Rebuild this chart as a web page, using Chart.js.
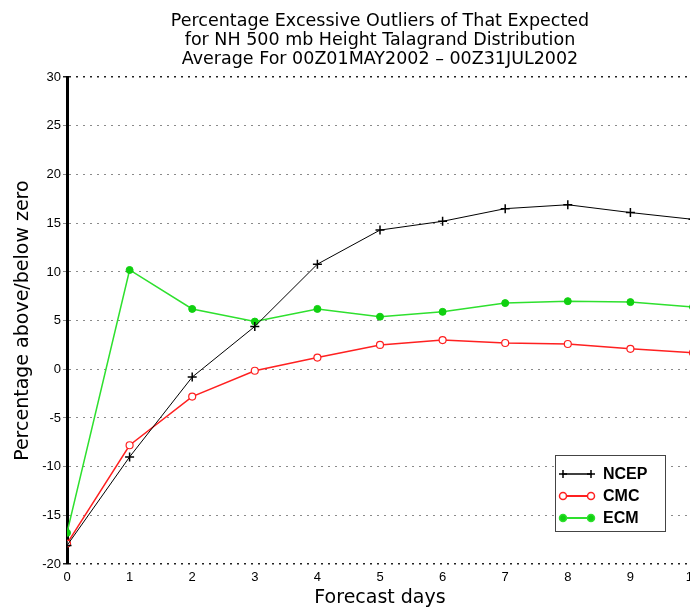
<!DOCTYPE html>
<html>
<head>
<meta charset="utf-8">
<script src="https://cdn.jsdelivr.net/npm/chart.js@4.4.1/dist/chart.umd.min.js"></script>
<style>
  html, body { margin: 0; padding: 0; background: #fff; overflow: hidden; }
  #wrap { width: 700px; height: 609px; }
</style>
</head>
<body>
<div id="wrap"><canvas id="chart" width="700" height="609"></canvas></div>
<script>
// forecast days and % excessive outliers per centre
const days = [0, 1, 2, 3, 4, 5, 6, 7, 8, 9, 10];
const ncep = [-18.1, -9.0, -0.8, 4.4, 10.8, 14.3, 15.2, 16.5, 16.9, 16.1, 15.4];
const cmc  = [-17.9, -7.8, -2.8, -0.15, 1.2, 2.5, 3.0, 2.7, 2.6, 2.1, 1.7];
const ecm  = [-16.8, 10.2, 6.2, 4.9, 6.2, 5.4, 5.9, 6.8, 7.0, 6.9, 6.4];
const yTicks = [-20, -15, -10, -5, 0, 5, 10, 15, 20, 25, 30];
const titleLines = [
    'Percentage Excessive Outliers of That Expected',
    'for NH 500 mb Height Talagrand Distribution',
    'Average For 00Z01MAY2002 \u2013 00Z31JUL2002'
];

const toPoints = (vals) => vals.map((v, i) => ({ x: days[i], y: v }));
const isEdge = (c) => c.tick && (c.tick.value === 30 || c.tick.value === -20);

// legend box drawn inside the plot, bottom right
const boxLegend = {
    id: 'boxLegend',
    afterDraw(chart) {
        const ctx = chart.ctx;
        const x0 = 555, y0 = 455, w = 110, h = 76;
        ctx.save();
        ctx.fillStyle = '#fff';
        ctx.fillRect(x0, y0, w, h);
        ctx.strokeStyle = '#444';
        ctx.lineWidth = 1;
        ctx.strokeRect(x0 + 0.5, y0 + 0.5, w, h);
        chart.data.datasets.forEach((ds, i) => {
            const y = y0 + 19 + i * 22;
            ctx.strokeStyle = ds.borderColor;
            ctx.lineWidth = ds.borderWidth + 0.5;
            ctx.beginPath();
            ctx.moveTo(562, y);
            ctx.lineTo(592, y);
            ctx.stroke();
            [563, 591].forEach(px => {
                ctx.fillStyle = ds.pointBackgroundColor;
                ctx.strokeStyle = ds.borderColor;
                ctx.lineWidth = 1.5;
                ctx.beginPath();
                if (ds.pointStyle === 'circle') {
                    ctx.arc(px, y, 3.5, 0, Math.PI * 2);
                    ctx.fill();
                    ctx.stroke();
                } else {
                    ctx.moveTo(px - 4, y);
                    ctx.lineTo(px + 4, y);
                    ctx.moveTo(px, y - 4);
                    ctx.lineTo(px, y + 4);
                    ctx.stroke();
                }
            });
            ctx.fillStyle = '#000';
            ctx.font = 'bold 16px "Liberation Sans", sans-serif';
            ctx.textBaseline = 'middle';
            ctx.fillText(ds.label, 603, y + 1);
        });
        ctx.restore();
    }
};

new Chart(document.getElementById('chart'), {
    type: 'line',
    data: {
        datasets: [
            {
                label: 'NCEP',
                data: toPoints(ncep),
                borderColor: '#000',
                borderWidth: 1,
                pointStyle: 'cross',
                pointRadius: 4.5,
                pointBorderWidth: 1.5,
                pointBackgroundColor: '#000',
                pointBorderColor: '#000'
            },
            {
                label: 'CMC',
                data: toPoints(cmc),
                borderColor: '#ff2020',
                borderWidth: 1.5,
                pointStyle: 'circle',
                pointRadius: 3.5,
                pointBorderWidth: 1.2,
                pointBackgroundColor: '#fff',
                pointBorderColor: '#ff2020'
            },
            {
                label: 'ECM',
                data: toPoints(ecm),
                borderColor: '#2ee02e',
                borderWidth: 1.5,
                pointStyle: 'circle',
                pointRadius: 3.5,
                pointBorderWidth: 1,
                pointBackgroundColor: '#10d010',
                pointBorderColor: '#10d010'
            }
        ]
    },
    options: {
        responsive: false,
        animation: false,
        layout: { padding: { left: 0, right: 7, top: 0, bottom: 0 } },
        plugins: {
            legend: { display: false },
            tooltip: { enabled: false },
            title: {
                display: true,
                fullSize: false,
                text: titleLines,
                color: '#000',
                font: { family: '"DejaVu Sans", sans-serif', size: 17.5, weight: 'normal', lineHeight: 1.09 },
                padding: { top: 12, bottom: 8 }
            }
        },
        scales: {
            x: {
                type: 'linear',
                min: 0,
                max: 10,
                afterFit: (s) => { s.height = 45; },
                ticks: {
                    stepSize: 1,
                    color: '#000',
                    padding: -2,
                    font: { family: '"Liberation Sans", sans-serif', size: 13 }
                },
                grid: { display: false },
                border: { display: false },
                title: {
                    display: true,
                    text: 'Forecast days',
                    color: '#000',
                    font: { family: '"DejaVu Sans", sans-serif', size: 19 },
                    padding: { top: 4, bottom: 0 }
                }
            },
            y: {
                min: -20,
                max: 30,
                afterFit: (s) => { s.width = 67; },
                afterBuildTicks: (s) => { s.ticks = yTicks.map(v => ({ value: v })); },
                ticks: {
                    color: '#000',
                    padding: 2,
                    font: { family: '"Liberation Sans", sans-serif', size: 13 }
                },
                grid: {
                    color: (c) => isEdge(c) ? '#222' : '#8a8a8a',
                    lineWidth: (c) => isEdge(c) ? 1.5 : 1,
                    tickLength: 4,
                    drawTicks: true
                },
                border: { color: '#000', width: 3, dash: [2, 5] },
                title: {
                    display: true,
                    text: 'Percentage above/below zero',
                    color: '#000',
                    font: { family: '"DejaVu Sans", sans-serif', size: 19 },
                    padding: { top: 12, bottom: 4 }
                }
            }
        }
    },
    plugins: [boxLegend]
});
</script>
</body>
</html>
